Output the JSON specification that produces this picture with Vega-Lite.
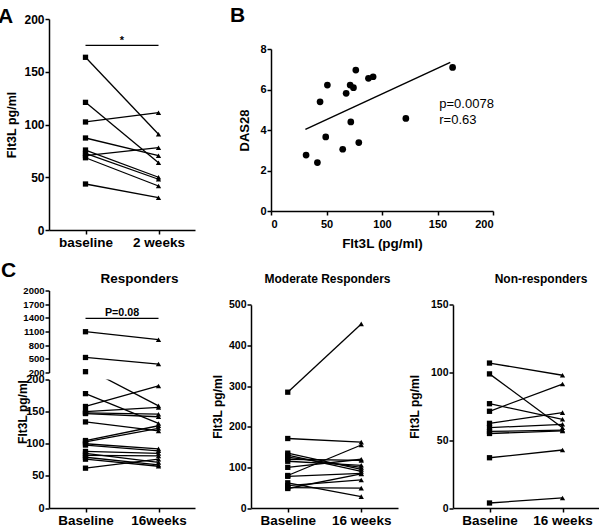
{
 "$schema": "https://vega.github.io/schema/vega-lite/v6.json",
 "padding": {"left": -3, "top": 4, "right": 0, "bottom": 0},
 "config": {
  "font": "Liberation Sans",
  "view": {"stroke": null},
  "axis": {"grid": false, "domainColor": "black", "domainWidth": 1.5, "tickColor": "black", "tickWidth": 1.5, "tickSize": 4, "labelColor": "black", "labelFontWeight": "bold", "labelFont": "Liberation Sans", "titleFont": "Liberation Sans", "titleFontWeight": "bold", "titleColor": "black", "labelPadding": 1, "titlePadding": 4},
  "title": {"font": "Liberation Sans", "fontWeight": "bold", "color": "black"},
  "line": {"color": "black", "strokeWidth": 1.3},
  "point": {"color": "black", "filled": true, "opacity": 1, "size": 28}
 },
 "datasets": {
  "a": [
   {"id": 1, "t": 0, "v": 163.7}, {"id": 1, "t": 2, "v": 90.7},
   {"id": 2, "t": 0, "v": 121.0}, {"id": 2, "t": 2, "v": 63.8},
   {"id": 3, "t": 0, "v": 102.4}, {"id": 3, "t": 2, "v": 111.2},
   {"id": 4, "t": 0, "v": 87.2}, {"id": 4, "t": 2, "v": 70.4},
   {"id": 5, "t": 0, "v": 75.8}, {"id": 5, "t": 2, "v": 50.0},
   {"id": 6, "t": 0, "v": 72.7}, {"id": 6, "t": 2, "v": 48.1},
   {"id": 7, "t": 0, "v": 70.5}, {"id": 7, "t": 2, "v": 78.0},
   {"id": 8, "t": 0, "v": 68.5}, {"id": 8, "t": 2, "v": 41.7},
   {"id": 9, "t": 0, "v": 43.6}, {"id": 9, "t": 2, "v": 30.6}
  ],
  "b": [
   {"flt3l": 31.6, "das28": 2.76}, {"flt3l": 41.8, "das28": 2.39}, {"flt3l": 44.2, "das28": 5.39},
   {"flt3l": 49.3, "das28": 3.66}, {"flt3l": 50.8, "das28": 6.22}, {"flt3l": 64.6, "das28": 3.05},
   {"flt3l": 67.7, "das28": 5.81}, {"flt3l": 71.3, "das28": 6.22}, {"flt3l": 71.9, "das28": 4.40},
   {"flt3l": 74.3, "das28": 6.09}, {"flt3l": 76.4, "das28": 6.96}, {"flt3l": 79.1, "das28": 3.38},
   {"flt3l": 87.8, "das28": 6.55}, {"flt3l": 92.0, "das28": 6.63}, {"flt3l": 121.5, "das28": 4.57},
   {"flt3l": 163.6, "das28": 7.09}
  ],
  "bfit": [{"flt3l": 31.0, "das28": 4.03}, {"flt3l": 161.5, "das28": 7.34}],
  "bstat": [{"flt3l": 151.6, "das28": 5.07, "label": "p=0.0078"}, {"flt3l": 151.6, "das28": 4.29, "label": "r=0.63"}],
  "r": [
   {"id": 1, "t": 0, "v": 1095}, {"id": 1, "t": 16, "v": 920},
   {"id": 2, "t": 0, "v": 530}, {"id": 2, "t": 16, "v": 385},
   {"id": 3, "t": 0, "v": 218}, {"id": 3, "t": 16, "v": 159},
   {"id": 4, "t": 0, "v": 178}, {"id": 4, "t": 16, "v": 131.6},
   {"id": 5, "t": 0, "v": 158}, {"id": 5, "t": 16, "v": 190},
   {"id": 6, "t": 0, "v": 150}, {"id": 6, "t": 16, "v": 156.5},
   {"id": 7, "t": 0, "v": 148}, {"id": 7, "t": 16, "v": 146},
   {"id": 8, "t": 0, "v": 147}, {"id": 8, "t": 16, "v": 142},
   {"id": 9, "t": 0, "v": 134}, {"id": 9, "t": 16, "v": 120},
   {"id": 10, "t": 0, "v": 105}, {"id": 10, "t": 16, "v": 128},
   {"id": 11, "t": 0, "v": 103}, {"id": 11, "t": 16, "v": 124},
   {"id": 12, "t": 0, "v": 100}, {"id": 12, "t": 16, "v": 92},
   {"id": 13, "t": 0, "v": 98}, {"id": 13, "t": 16, "v": 89},
   {"id": 14, "t": 0, "v": 88}, {"id": 14, "t": 16, "v": 85},
   {"id": 15, "t": 0, "v": 85}, {"id": 15, "t": 16, "v": 71},
   {"id": 16, "t": 0, "v": 82}, {"id": 16, "t": 16, "v": 81},
   {"id": 17, "t": 0, "v": 79}, {"id": 17, "t": 16, "v": 67},
   {"id": 18, "t": 0, "v": 76}, {"id": 18, "t": 16, "v": 65},
   {"id": 19, "t": 0, "v": 62}, {"id": 19, "t": 16, "v": 76}
  ],
  "m": [
   {"id": 1, "t": 0, "v": 285}, {"id": 1, "t": 16, "v": 453},
   {"id": 2, "t": 0, "v": 171}, {"id": 2, "t": 16, "v": 162},
   {"id": 3, "t": 0, "v": 135}, {"id": 3, "t": 16, "v": 95},
   {"id": 4, "t": 0, "v": 130}, {"id": 4, "t": 16, "v": 90},
   {"id": 5, "t": 0, "v": 125}, {"id": 5, "t": 16, "v": 100},
   {"id": 6, "t": 0, "v": 120}, {"id": 6, "t": 16, "v": 117},
   {"id": 7, "t": 0, "v": 115}, {"id": 7, "t": 16, "v": 105},
   {"id": 8, "t": 0, "v": 100}, {"id": 8, "t": 16, "v": 120},
   {"id": 9, "t": 0, "v": 80}, {"id": 9, "t": 16, "v": 155},
   {"id": 10, "t": 0, "v": 78}, {"id": 10, "t": 16, "v": 85},
   {"id": 11, "t": 0, "v": 62}, {"id": 11, "t": 16, "v": 28},
   {"id": 12, "t": 0, "v": 55}, {"id": 12, "t": 16, "v": 69},
   {"id": 13, "t": 0, "v": 50}, {"id": 13, "t": 16, "v": 49},
   {"id": 14, "t": 0, "v": 48}, {"id": 14, "t": 16, "v": 84}
  ],
  "n": [
   {"id": 1, "t": 0, "v": 107}, {"id": 1, "t": 16, "v": 98},
   {"id": 2, "t": 0, "v": 99}, {"id": 2, "t": 16, "v": 59.3},
   {"id": 3, "t": 0, "v": 77}, {"id": 3, "t": 16, "v": 65.5},
   {"id": 4, "t": 0, "v": 71.4}, {"id": 4, "t": 16, "v": 91.5},
   {"id": 5, "t": 0, "v": 62.5}, {"id": 5, "t": 16, "v": 70.4},
   {"id": 6, "t": 0, "v": 59.3}, {"id": 6, "t": 16, "v": 61.8},
   {"id": 7, "t": 0, "v": 56.5}, {"id": 7, "t": 16, "v": 57.5},
   {"id": 8, "t": 0, "v": 55}, {"id": 8, "t": 16, "v": 56.9},
   {"id": 9, "t": 0, "v": 37.1}, {"id": 9, "t": 16, "v": 42.8},
   {"id": 10, "t": 0, "v": 3.7}, {"id": 10, "t": 16, "v": 7.4}
  ]
 },
 "spacing": 9.5,
 "vconcat": [
  {
   "spacing": 34,
   "hconcat": [
    {
     "width": 146, "height": 211,
     "title": {"text": "A", "anchor": "start", "fontSize": 21, "offset": -14, "dx": -8},
     "data": {"name": "a"},
     "encoding": {
      "x": {"field": "t", "type": "quantitative", "scale": {"domain": [-1, 3]}, "axis": {"values": [0, 2], "labelExpr": "datum.value == 0 ? 'baseline' : '2 weeks'", "title": null, "labelFontSize": 13.5}},
      "y": {"field": "v", "type": "quantitative", "scale": {"domain": [0, 200]}, "axis": {"values": [0, 50, 100, 150, 200], "title": "Flt3L pg/ml", "titleFontSize": 12.5, "labelFontSize": 12, "titlePadding": 5}}
     },
     "layer": [
      {"mark": {"type": "line"}, "encoding": {"detail": {"field": "id", "type": "nominal"}}},
      {"mark": {"type": "point"}, "encoding": {"shape": {"field": "t", "type": "nominal", "scale": {"domain": [0, 2, 16], "range": ["square", "triangle-up", "triangle-up"]}, "legend": null}}},
      {"data": {"values": [{"t0": 0, "t1": 2, "y": 175}]}, "mark": {"type": "rule", "strokeWidth": 1.2, "color": "black"}, "encoding": {"x": {"field": "t0", "type": "quantitative"}, "x2": {"field": "t1"}, "y": {"field": "y", "type": "quantitative"}}},
      {"data": {"values": [{"t": 1, "y": 175, "label": "*"}]}, "mark": {"type": "text", "fontSize": 11, "fontWeight": "bold", "baseline": "alphabetic", "dy": -1, "color": "black"}, "encoding": {"x": {"field": "t", "type": "quantitative"}, "y": {"field": "y", "type": "quantitative"}, "text": {"field": "label"}}}
     ]
    },
    {
     "width": 222, "height": 192,
     "title": {"text": "B", "anchor": "start", "fontSize": 21, "offset": -6.5, "dx": -9},
     "layer": [
      {"data": {"name": "b"}, "mark": {"type": "circle", "size": 45, "color": "black", "opacity": 1},
       "encoding": {
        "x": {"field": "flt3l", "type": "quantitative", "scale": {"domain": [0, 200]}, "axis": {"values": [0, 50, 100, 150, 200], "title": "Flt3L (pg/ml)", "titleFontSize": 13.5, "labelFontSize": 11, "labelPadding": 3, "titlePadding": 7}},
        "y": {"field": "das28", "type": "quantitative", "scale": {"domain": [0, 8], "range": [192, 30]}, "axis": {"values": [0, 2, 4, 6, 8], "title": "DAS28", "titleFontSize": 13, "labelFontSize": 11, "titlePadding": 8}}
       }},
      {"data": {"name": "bfit"}, "mark": {"type": "line", "strokeWidth": 1.5}, "encoding": {"x": {"field": "flt3l", "type": "quantitative"}, "y": {"field": "das28", "type": "quantitative"}}},
      {"data": {"name": "bstat"}, "mark": {"type": "text", "align": "left", "baseline": "alphabetic", "fontSize": 13, "color": "black"}, "encoding": {"x": {"field": "flt3l", "type": "quantitative"}, "y": {"field": "das28", "type": "quantitative"}, "text": {"field": "label"}}}
     ]
    }
   ]
  },
  {
   "title": {"text": "C", "anchor": "start", "fontSize": 21, "offset": -9, "dx": -15},
   "spacing": 16,
   "hconcat": [
    {
     "title": {"text": "Responders", "anchor": "middle", "fontSize": 13.5, "offset": 0, "dx": 34},
     "spacing": 7,
     "bounds": "flush",
     "resolve": {"scale": {"x": "independent", "y": "independent"}},
     "vconcat": [
      {
       "width": 146, "height": 82,
       "data": {"name": "r"},
       "encoding": {
        "x": {"field": "t", "type": "quantitative", "scale": {"domain": [-8, 24]}, "axis": null},
        "y": {"field": "v", "type": "quantitative", "scale": {"domain": [200, 2000]}, "axis": {"values": [200, 500, 800, 1100, 1400, 1700, 2000], "format": "d", "title": null, "labelFontSize": 9.5}}
       },
       "layer": [
        {"transform": [{"joinaggregate": [{"op": "min", "field": "v", "as": "vmin"}], "groupby": ["id"]}, {"filter": "datum.vmin >= 200"}], "mark": {"type": "line", "clip": true}, "encoding": {"detail": {"field": "id", "type": "nominal"}}},
        {"transform": [{"filter": "datum.v >= 200"}], "mark": {"type": "point"}, "encoding": {"shape": {"field": "t", "type": "nominal", "scale": {"domain": [0, 2, 16], "range": ["square", "triangle-up", "triangle-up"]}, "legend": null}}},
        {"data": {"values": [{"t0": 0, "t1": 16, "y": 1390}]}, "mark": {"type": "rule", "strokeWidth": 1.2, "color": "black"}, "encoding": {"x": {"field": "t0", "type": "quantitative"}, "x2": {"field": "t1"}, "y": {"field": "y", "type": "quantitative"}}},
        {"data": {"values": [{"t": 8, "y": 1390, "label": "P=0.08"}]}, "mark": {"type": "text", "fontSize": 10.7, "fontWeight": "bold", "baseline": "alphabetic", "dy": -2, "color": "black"}, "encoding": {"x": {"field": "t", "type": "quantitative"}, "y": {"field": "y", "type": "quantitative"}, "text": {"field": "label"}}}
       ]
      },
      {
       "width": 146, "height": 128.5,
       "data": {"name": "r"},
       "encoding": {
        "x": {"field": "t", "type": "quantitative", "scale": {"domain": [-8, 24]}, "axis": {"values": [0, 16], "labelExpr": "datum.value == 0 ? 'Baseline' : '16weeks'", "title": null, "labelFontSize": 13.5}},
        "y": {"field": "v", "type": "quantitative", "scale": {"domain": [0, 200]}, "axis": {"values": [0, 50, 100, 150, 200], "title": "Flt3L pg/ml", "titleFontSize": 12, "labelFontSize": 11, "titleX": -20, "titleY": 32, "titleBaseline": "bottom", "titleAlign": "center", "titleAngle": 270}}
       },
       "layer": [
        {"mark": {"type": "line", "clip": true}, "encoding": {"detail": {"field": "id", "type": "nominal"}}},
        {"transform": [{"filter": "datum.v <= 200"}], "mark": {"type": "point"}, "encoding": {"shape": {"field": "t", "type": "nominal", "scale": {"domain": [0, 2, 16], "range": ["square", "triangle-up", "triangle-up"]}, "legend": null}}}
       ]
      }
     ]
    },
    {
     "spacing": 10,
     "hconcat": [
      {
       "width": 147, "height": 217.5,
       "title": {"text": "Moderate Responders", "anchor": "middle", "fontSize": 12, "offset": 4.5, "dx": 3},
       "data": {"name": "m"},
       "encoding": {
        "x": {"field": "t", "type": "quantitative", "scale": {"domain": [-8, 24]}, "axis": {"values": [0, 16], "labelExpr": "datum.value == 0 ? 'Baseline' : '16 weeks'", "title": null, "labelFontSize": 13.5}},
        "y": {"field": "v", "type": "quantitative", "scale": {"domain": [0, 500], "range": [217.5, 14.3]}, "axis": {"values": [0, 100, 200, 300, 400, 500], "title": "Flt3L pg/ml", "titleFontSize": 12, "labelFontSize": 10.5}}
       },
       "layer": [
        {"mark": {"type": "line"}, "encoding": {"detail": {"field": "id", "type": "nominal"}}},
        {"mark": {"type": "point"}, "encoding": {"shape": {"field": "t", "type": "nominal", "scale": {"domain": [0, 2, 16], "range": ["square", "triangle-up", "triangle-up"]}, "legend": null}}}
       ]
      },
      {
       "width": 146, "height": 217.5,
       "title": {"text": "Non-responders", "anchor": "middle", "fontSize": 12, "offset": 4.5, "dx": 15},
       "data": {"name": "n"},
       "encoding": {
        "x": {"field": "t", "type": "quantitative", "scale": {"domain": [-8, 24]}, "axis": {"values": [0, 16], "labelExpr": "datum.value == 0 ? 'Baseline' : '16 weeks'", "title": null, "labelFontSize": 13.5}},
        "y": {"field": "v", "type": "quantitative", "scale": {"domain": [0, 150], "range": [217.5, 14.3]}, "axis": {"values": [0, 50, 100, 150], "title": "Flt3L pg/ml", "titleFontSize": 12, "labelFontSize": 10.5, "titlePadding": 9}}
       },
       "layer": [
        {"mark": {"type": "line"}, "encoding": {"detail": {"field": "id", "type": "nominal"}}},
        {"mark": {"type": "point"}, "encoding": {"shape": {"field": "t", "type": "nominal", "scale": {"domain": [0, 2, 16], "range": ["square", "triangle-up", "triangle-up"]}, "legend": null}}}
       ]
      }
     ]
    }
   ]
  }
 ]
}
